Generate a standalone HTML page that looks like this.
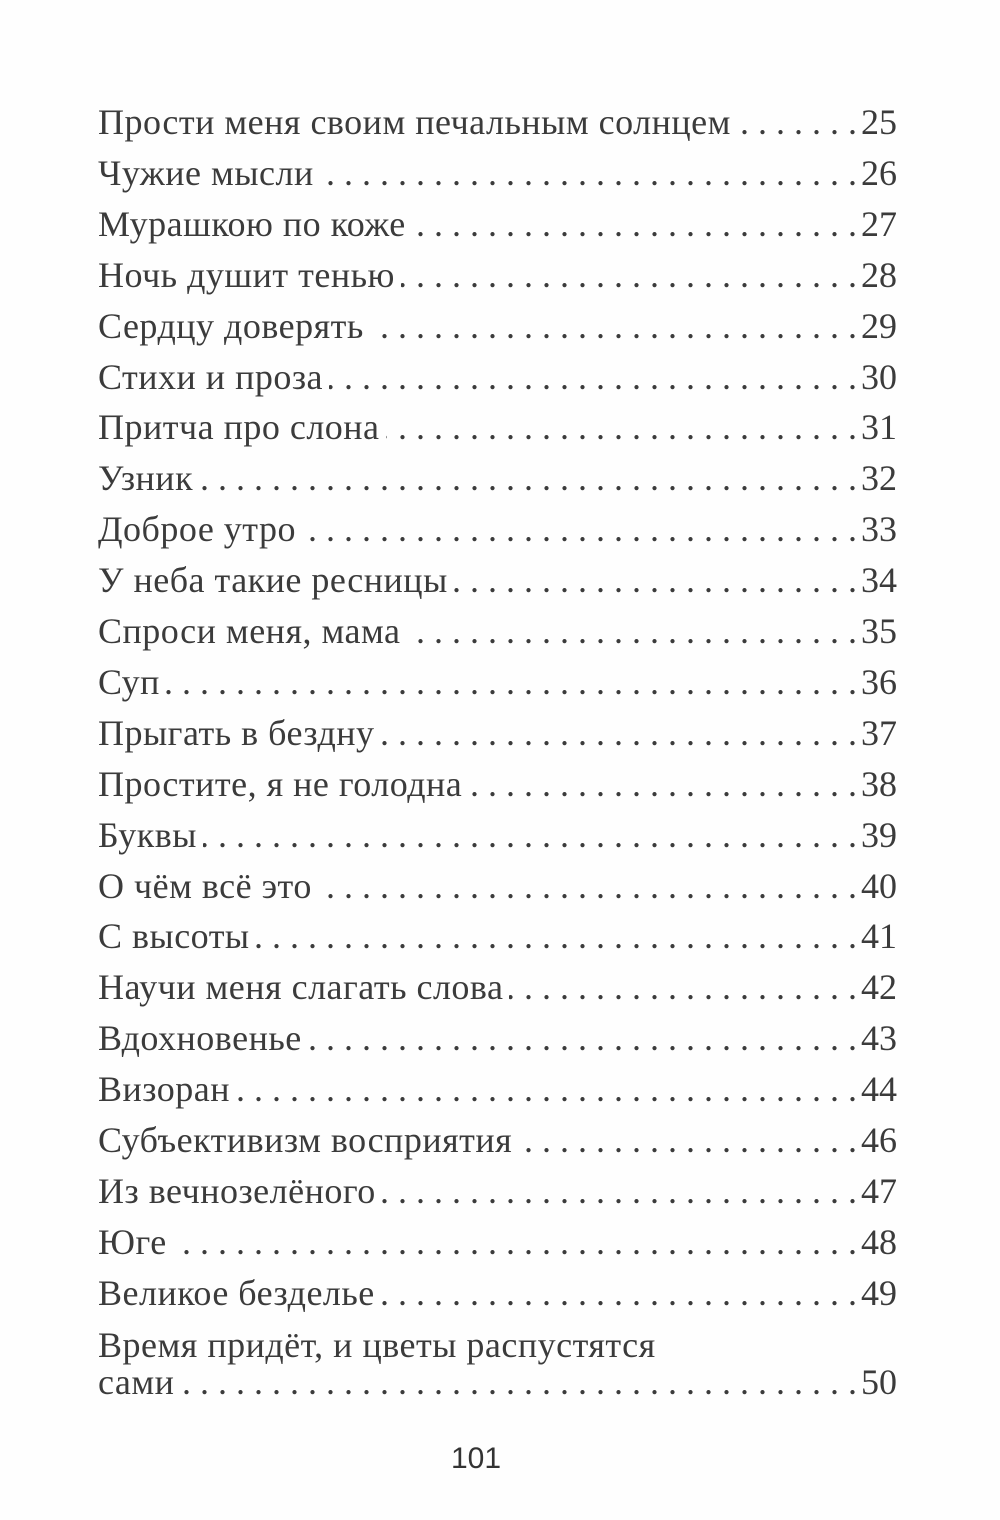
<!DOCTYPE html>
<html><head><meta charset="utf-8"><style>
html,body{margin:0;padding:0;background:#fefefe;}
body{width:1000px;height:1520px;position:relative;overflow:hidden;font-family:"Liberation Serif","DejaVu Serif",serif;color:#3b3b3b;font-size:36px;}
.r{position:absolute;left:98px;width:799px;display:flex;align-items:baseline;height:40px;line-height:40px;white-space:nowrap;}
.t{flex:none;letter-spacing:0.5px;}
.l{flex:1;overflow:hidden;white-space:nowrap;direction:rtl;text-align:right;margin:0 4px 0 6px;}
.n{flex:none;}
.pg{position:absolute;left:0;width:952px;text-align:center;top:1442px;font-family:"Liberation Sans",sans-serif;font-size:30px;color:#333;}
</style></head><body>
<div id="c"></div>
<div class="r" style="top:1325px"><span class="t">Время придёт, и цветы распустятся</span></div>
<div class="pg">101</div>
<script>
var items=[["Прости меня своим печальным солнцем","25"],["Чужие мысли","26"],["Мурашкою по коже","27"],["Ночь душит тенью","28"],["Сердцу доверять","29"],["Стихи и проза","30"],["Притча про слона","31"],["Узник","32"],["Доброе утро","33"],["У неба такие ресницы","34"],["Спроси меня, мама","35"],["Суп","36"],["Прыгать в бездну","37"],["Простите, я не голодна","38"],["Буквы","39"],["О чём всё это","40"],["С высоты","41"],["Научи меня слагать слова","42"],["Вдохновенье","43"],["Визоран","44"],["Субъективизм восприятия","46"],["Из вечнозелёного","47"],["Юге","48"],["Великое безделье","49"]];
var dots=new Array(80).join(". ")+".";
var h="";
items.forEach(function(it,i){var top=123+i*50.9-21;
h+='<div class="r" style="top:'+top+'px"><span class="t">'+it[0]+'</span><span class="l">'+dots+'</span><span class="n">'+it[1]+'</span></div>';});
h+='<div class="r" style="top:1362px"><span class="t">сами</span><span class="l">'+dots+'</span><span class="n">50</span></div>';
document.getElementById("c").innerHTML=h;
</script>
</body></html>
